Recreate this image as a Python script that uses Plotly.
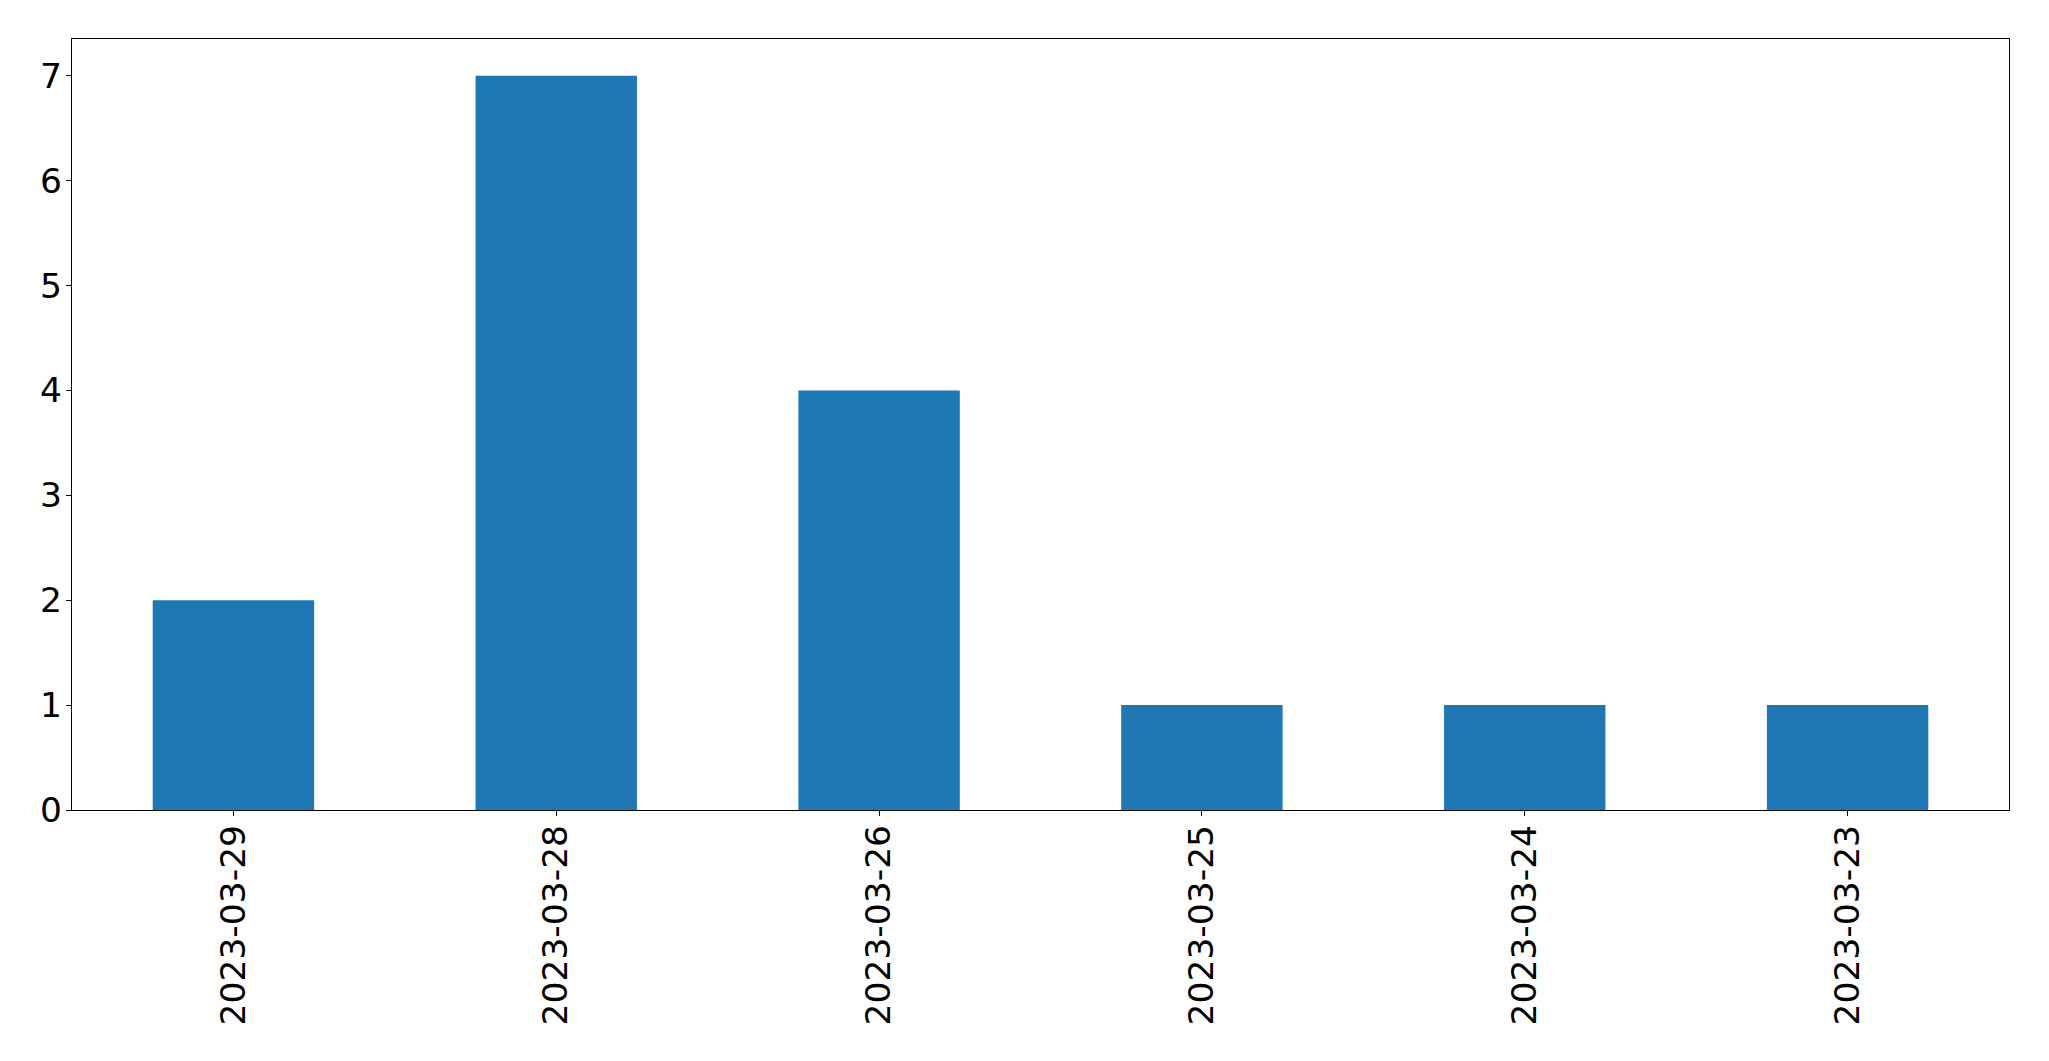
import plotly.graph_objects as go

dates = ["2023-03-29", "2023-03-28", "2023-03-26", "2023-03-25", "2023-03-24", "2023-03-23"]
counts = [2, 7, 4, 1, 1, 1]

fig = go.Figure(
    go.Bar(x=dates, y=counts, width=0.5, marker=dict(color="#1f77b4", line=dict(width=0)))
)

font = dict(family="DejaVu Sans", size=34.5, color="black")
# page body has an 8px margin, so the figure is sized and offset to compensate
fig.update_layout(
    width=2041,
    height=1045,
    margin=dict(l=64, r=40, t=31, b=243),
    paper_bgcolor="white",
    plot_bgcolor="white",
    showlegend=False,
    font=font,
)
fig.update_xaxes(
    type="category",
    range=[-0.5, 5.5],
    tickangle=-90,
    ticks="outside",
    ticklen=5,
    tickwidth=1.3,
    tickcolor="black",
    ticklabelstandoff=-5,
    showline=True,
    linecolor="black",
    linewidth=1.3,
    mirror=True,
    showgrid=False,
    automargin=False,
    tickfont=font,
)
fig.update_yaxes(
    range=[0, 7.35],
    dtick=1,
    tick0=0,
    ticks="outside",
    ticklen=5,
    tickwidth=1.3,
    tickcolor="black",
    ticklabelstandoff=-3,
    showline=True,
    linecolor="black",
    linewidth=1.3,
    mirror=True,
    showgrid=False,
    zeroline=False,
    automargin=False,
    tickfont=font,
)
fig.write_html("out.html")
